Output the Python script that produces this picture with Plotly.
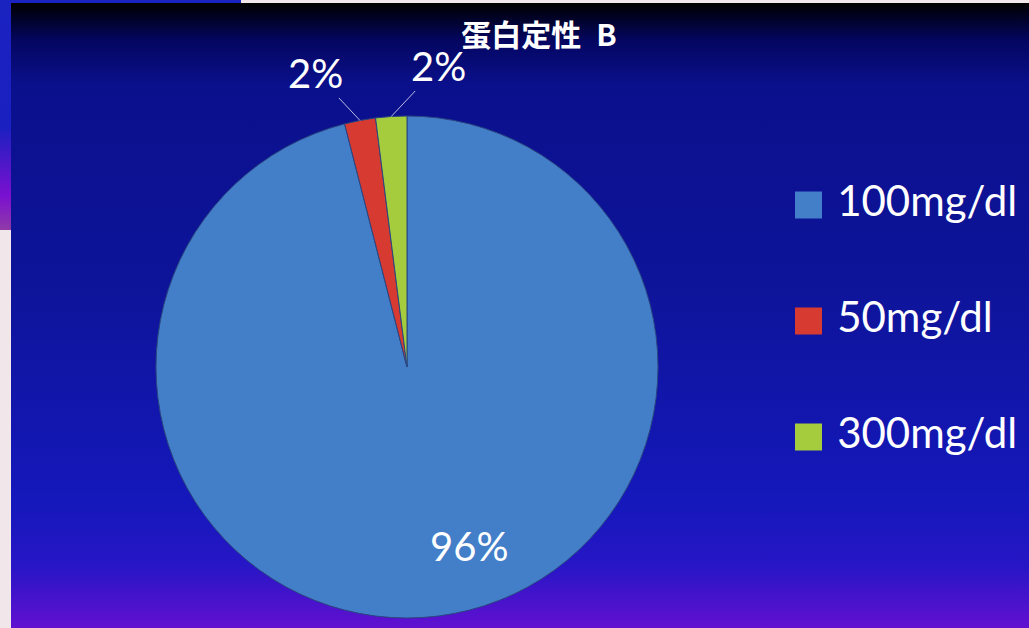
import math
import urllib.parse
import plotly.graph_objects as go

# ---- data ----
categories = ["100mg/dl", "50mg/dl", "300mg/dl"]
values = [96, 2, 2]
colors = ["#437ec9", "#d63a30", "#a4cc3c"]
title_text = "蛋白定性 B"

W, H = 1029, 628
FONT = "Lato, Open Sans, sans-serif"

# pie placement (pixels)
PIE_L, PIE_R, PIE_T, PIE_B = 156, 658, 116, 618
CX, CY = (PIE_L + PIE_R) / 2, (PIE_T + PIE_B) / 2
R = (PIE_B - PIE_T) / 2

# background (slide gradient) as an SVG image
svg = f'''<svg xmlns="http://www.w3.org/2000/svg" width="{W}" height="{H}" viewBox="0 0 {W} {H}" preserveAspectRatio="none">
<defs>
<linearGradient id="g" x1="0" y1="0" x2="0" y2="1">
<stop offset="0" stop-color="#000000"/>
<stop offset="0.06" stop-color="#040660"/>
<stop offset="0.13" stop-color="#0a108c"/>
<stop offset="0.45" stop-color="#0e1499"/>
<stop offset="0.80" stop-color="#1518bb"/>
<stop offset="0.90" stop-color="#2716c6"/>
<stop offset="1" stop-color="#6210d0"/>
</linearGradient>
<linearGradient id="s" x1="0" y1="0" x2="0" y2="1">
<stop offset="0" stop-color="#1a22c0"/>
<stop offset="0.55" stop-color="#1a20c0"/>
<stop offset="0.85" stop-color="#7a10d0"/>
<stop offset="1" stop-color="#903aa8"/>
</linearGradient>
</defs>
<rect x="0" y="0" width="{W}" height="{H}" fill="#f1e6ea"/>
<rect x="0" y="0" width="11" height="230" fill="url(#s)"/>
<rect x="0" y="0" width="241" height="3" fill="#1a22c0"/>
<rect x="11" y="3" width="{W-11}" height="{H-3}" fill="url(#g)"/>
</svg>'''
bg_uri = "data:image/svg+xml;charset=utf-8," + urllib.parse.quote(svg)

fig = go.Figure()
fig.add_trace(go.Pie(
    labels=categories,
    values=values,
    sort=False,
    direction="clockwise",
    rotation=0,
    marker=dict(colors=colors, line=dict(color="#2a4680", width=1)),
    textinfo="none",
    showlegend=False,
    domain=dict(x=[PIE_L / W, PIE_R / W], y=[1 - PIE_B / H, 1 - PIE_T / H]),
    hoverinfo="label+percent",
))

# legend drawn as a categorical scatter on hidden axes
fig.add_trace(go.Scatter(
    x=[0] * len(categories),
    y=categories,
    mode="markers+text",
    marker=dict(symbol="square", size=27, color=colors, line=dict(width=0)),
    text=[" " + c for c in categories],
    textposition="middle right",
    textfont=dict(family=FONT, size=42, color="white"),
    xaxis="x2", yaxis="y2",
    showlegend=False,
    hoverinfo="skip",
))

# percentage labels computed from the data
total = sum(values)
annotations = []
cum = 0.0
label_offsets = [None, (-44, -47), (47, -50)]
for i, v in enumerate(values):
    frac = v / total
    mid = (cum + frac / 2) * 2 * math.pi  # clockwise from 12 o'clock
    cum += frac
    txt = f"{round(frac * 100)}%"
    if i == 0:
        px = CX + 0.75 * R * math.sin(mid)
        py = CY - 0.75 * R * math.cos(mid)
        annotations.append(dict(x=px / W, y=1 - py / H, xref="paper", yref="paper",
                                xanchor="center", yanchor="middle",
                                text=txt, showarrow=False, xshift=38, yshift=8,
                                font=dict(family=FONT, size=40, color="white")))
    else:
        px = CX + R * math.sin(mid)
        py = CY - R * math.cos(mid)
        ax, ay = label_offsets[i]
        annotations.append(dict(x=px / W, y=1 - py / H, xref="paper", yref="paper",
                                text=txt, showarrow=True, arrowhead=0, arrowwidth=1,
                                arrowcolor="#b8bce0", ax=ax, ay=ay, standoff=0,
                                borderpad=0,
                                font=dict(family=FONT, size=40, color="white")))

fig.update_layout(
    width=W, height=H,
    margin=dict(l=0, r=0, t=0, b=0),
    paper_bgcolor="#0e1499",
    plot_bgcolor="rgba(0,0,0,0)",
    images=[dict(source=bg_uri, xref="paper", yref="paper", x=0, y=1,
                 sizex=1, sizey=1, sizing="stretch", layer="below",
                 xanchor="left", yanchor="top")],
    title=dict(text=title_text.replace(" ", "\u2002"), x=539 / W, xanchor="center",
               y=1 - 35 / H, yanchor="middle",
               font=dict(family="Noto Sans CJK JP", size=30, color="white", weight="bold")),
    xaxis2=dict(domain=[720 / W, 1.0], range=[-(808.5 - 720) / (W - 720), 1 - (808.5 - 720) / (W - 720)],
                visible=False, fixedrange=True, autorange=False),
    yaxis2=dict(domain=[1 - (321 + 174) / H, 1 - (321 - 174) / H], type="category",
                autorange=False, range=[2.5, -0.5], visible=False, fixedrange=True,
                anchor="x2"),
    annotations=annotations,
    showlegend=False,
)

fig.write_html("out.html", config={"displayModeBar": False},
               post_script="document.body.style.margin='0';")
